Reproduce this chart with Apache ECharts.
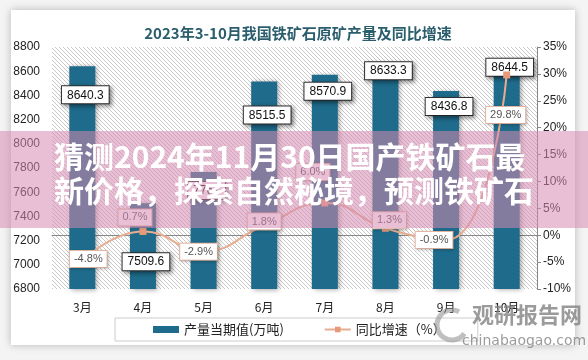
<!DOCTYPE html>
<html>
<head>
<meta charset="utf-8">
<script src="https://cdn.jsdelivr.net/npm/echarts@6/dist/echarts.min.js"></script>
<style>
html,body{margin:0;padding:0;background:#f4f4f4;}
#card{position:absolute;left:11px;top:10px;width:564px;height:335px;background:#fff;box-shadow:0 0 8px rgba(0,0,0,0.25);}
#chart{position:absolute;left:0;top:0;width:588px;height:360px;}
</style>
</head>
<body>
<div id="card"></div>
<div id="chart"></div>
<script>
const categories = ['3月','4月','5月','6月','7月','8月','9月','10月'];
const output = [8640.3, 7509.6, 7767.0, 8515.5, 8570.9, 8633.3, 8436.8, 8644.5];
const growth = [-4.8, 0.7, -2.9, 1.8, 6.0, 1.3, -0.9, 29.8];
const leftTicks = {min: 6800, max: 8800, interval: 200};
const rightTicks = {min: -10, max: 35, interval: 5};
const titleText = '2023年3-10月我国铁矿石原矿产量及同比增速';
const barName = '产量当期值(万吨)';
const lineName = '同比增速（%）';
const bannerLines = ['猜测2024年11月30日国产铁矿石最', '新价格，探索自然秘境，预测铁矿石'];

// label offsets (style only)
const barLabelOffsetY = [20, 50, 10, 25, 8, -5, 7, -7];
const lineLabelOffsets = [[6,-2],[-8,-14],[-5,1],[0,-4],[-12,-31],[4,-8],[-12,0],[-1,40]];

const pc = document.createElement('canvas');
pc.width = 4; pc.height = 4;
const g = pc.getContext('2d');
g.fillStyle = '#ffffff'; g.fillRect(0,0,4,4);
g.strokeStyle = '#c9c9c9'; g.lineWidth = 1;
g.beginPath();
g.moveTo(-1,-1); g.lineTo(5,5);
g.moveTo(-1,3); g.lineTo(1,5);
g.moveTo(3,-1); g.lineTo(5,1);
g.stroke();

const chart = echarts.init(document.getElementById('chart'), null, {renderer:'canvas'});
const barColor = '#1f6b8b';
const lineColor = '#e7ad90';

const option = {
  animation: false,
  backgroundColor: 'transparent',
  title: {
    text: titleText, left: 293, top: 21, textAlign: 'center',
    textStyle: {fontFamily: 'Noto Sans CJK SC', fontSize: 15, fontWeight: 'bold', color: '#2b5e6d'}
  },
  grid: {left: 52, right: 51, top: 47, bottom: 71, show: true, borderWidth: 0,
    backgroundColor: {image: pc, repeat: 'repeat'}},
  legend: {
    left: 115, top: 318, width: 325, itemGap: 40,
    borderColor: '#cccccc', borderWidth: 1, padding: [5, 32, 5, 38],
    textStyle: {fontFamily: 'Noto Sans CJK SC', fontSize: 13, color: '#222'},
    data: [
      {name: barName, icon: 'rect', itemStyle:{color: barColor}},
      {name: lineName}
    ],
    itemWidth: 26, itemHeight: 7
  },
  xAxis: {
    type: 'category', data: categories,
    axisLine: {lineStyle: {color: '#888'}},
    axisTick: {show: false},
    axisLabel: {color: '#222', fontSize: 12, margin: 12, fontFamily: 'Noto Sans CJK SC'}
  },
  yAxis: [
    {type: 'value', min: leftTicks.min, max: leftTicks.max, interval: leftTicks.interval,
     splitLine: {show: false}, axisLine: {show: false}, axisTick: {show: false},
     axisLabel: {color: '#222', fontSize: 12, margin: 12, formatter: v => String(v)}},
    {type: 'value', min: rightTicks.min, max: rightTicks.max, interval: rightTicks.interval,
     splitLine: {show: false}, axisLine: {show: true, lineStyle: {color: '#888'}},
     axisTick: {show: true, length: 4, lineStyle: {color: '#888'}},
     axisLabel: {color: '#222', fontSize: 12, margin: 6, formatter: '{value}%'}}
  ],
  series: [
    {
      name: barName, type: 'bar', barWidth: 26, z: 2,
      itemStyle: {color: barColor, shadowBlur: 5, shadowColor: 'rgba(0,0,0,0.35)', shadowOffsetX: 2, shadowOffsetY: 1},
      data: output.map((v, i) => ({value: v, label: {offset: [3, barLabelOffsetY[i]]}})),
      label: {
        show: true, position: 'insideTop', distance: 0, color: '#111', fontSize: 12,
        backgroundColor: '#fff', borderColor: '#333', borderWidth: 1, padding: [3, 5, 2, 5],
        shadowBlur: 4, shadowColor: 'rgba(0,0,0,0.4)', shadowOffsetX: 2, shadowOffsetY: 2
      }
    },
    {
      name: lineName, type: 'line', yAxisIndex: 1, smooth: true, z: 3,
      symbol: 'rect', symbolSize: 7,
      lineStyle: {color: lineColor, width: 2},
      itemStyle: {color: '#e69a7a'},
      data: growth.map((v, i) => ({value: v, label: {offset: lineLabelOffsets[i]}})),
      label: {
        show: true, position: 'inside', color: '#555', fontSize: 11,
        formatter: p => p.value.toFixed(1) + '%',
        backgroundColor: '#fff', borderColor: '#e8b9a4', borderWidth: 1, padding: [3, 4, 2, 4],
        shadowBlur: 3, shadowColor: 'rgba(0,0,0,0.2)', shadowOffsetX: 1, shadowOffsetY: 1
      }
    }
  ],
  graphic: [
    {type: 'rect', z: 100, shape: {x: 0, y: 131, width: 588, height: 97},
     style: {fill: 'rgba(214,138,176,0.55)'}},
    {type: 'text', z: 101, left: 54, top: 142,
     style: {text: bannerLines[0], fill: '#fff', font: 'bold 30px "Noto Sans CJK SC"'}},
    {type: 'text', z: 101, left: 54, top: 176,
     style: {text: bannerLines[1], fill: '#fff', font: 'bold 30px "Noto Sans CJK SC"'}},
    {type: 'arc', z: 90, shape: {cx: 452, cy: 325, r: 15, startAngle: 0.6, endAngle: 5.2},
     style: {stroke: 'rgba(150,150,150,0.6)', lineWidth: 5, fill: null}},
    {type: 'text', z: 90, left: 472, top: 304,
     style: {text: '观研报告网', fill: 'rgba(130,130,130,0.8)', font: 'bold 22px "Noto Sans CJK SC"'}},
    {type: 'text', z: 90, left: 462, top: 334,
     style: {text: 'chinabaogao.com', fill: 'rgba(130,130,130,0.8)', font: '14px "DejaVu Sans"'}}
  ]
};
chart.setOption(option);
</script>
</body>
</html>
